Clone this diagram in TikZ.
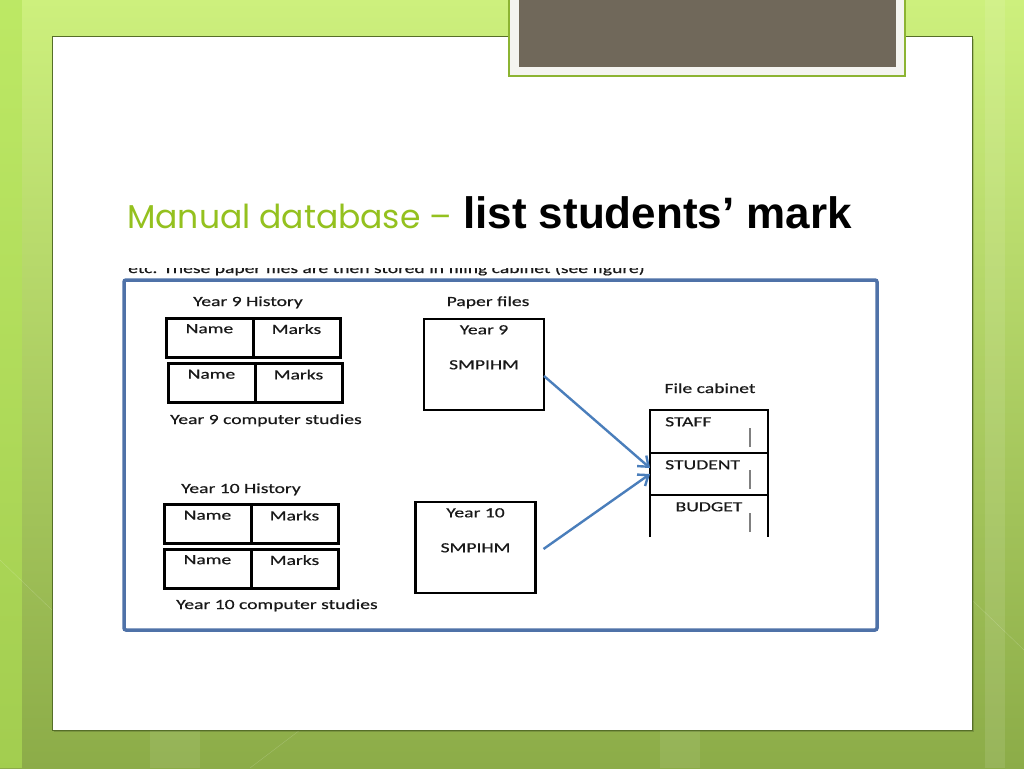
\documentclass[tikz,border=0pt]{standalone}
\usepackage{fontspec}
\usetikzlibrary{positioning,arrows.meta,calc}
\newfontfamily\diagfont[FakeStretch=1.4,FakeBold=0.5]{Carlito}
\newfontfamily\headfont{Poppins}
\newfontfamily\markfont{Liberation Sans}
\newcommand{\diagsize}{\diagfont\fontsize{14}{16}\selectfont}
\definecolor{leafgreen}{RGB}{148,193,31}
\definecolor{panelline}{RGB}{85,110,40}
\definecolor{framblue}{RGB}{79,114,168}
\definecolor{flowblue}{RGB}{74,126,187}
\definecolor{slategray}{RGB}{112,104,90}
\definecolor{inkgray}{RGB}{25,25,25}
\definecolor{bgtop}{RGB}{205,240,125}
\definecolor{bgbottom}{RGB}{140,172,72}
\definecolor{bgleft}{RGB}{178,228,85}
\definecolor{tabline}{RGB}{140,180,50}
\definecolor{tabfill}{RGB}{244,244,240}
\tikzset{
  cell/.style={draw, line width=3pt, minimum width=87pt, minimum height=39pt,
    outer sep=0pt, inner sep=0pt},
  celltext/.style={anchor=north, inner sep=0pt, yshift=-6pt, text=inkgray, font=\diagsize},
  caption/.style={anchor=base, inner sep=0pt, text=inkgray, font=\diagsize},
  paper/.style={draw, line width=2.5pt, minimum width=120pt, minimum height=91pt,
    outer sep=0pt, inner sep=0pt},
  drawer/.style={minimum width=118pt, minimum height=42pt, outer sep=0pt, inner sep=0pt},
  drawertext/.style={anchor=north west, inner sep=0pt, text=inkgray, font=\diagsize},
  handle/.style={draw=gray, line width=1.5pt},
  flow/.style={draw=flowblue, line width=2.4pt, -{Straight Barb[length=9pt,width=14pt]}}
}
\begin{document}
\begin{tikzpicture}[x=1pt,y=-1pt]
  \useasboundingbox (0,0) rectangle (1024,768);
  % Slide background
  \shade[top color=bgtop, bottom color=bgbottom] (0,0) rectangle (1024,768);
  \fill[bgleft, opacity=0.6] (0,0) rectangle (22,768);
  \fill[white, opacity=0.10] (985,0) rectangle (1005,768);
  \fill[white, opacity=0.08] (150,730) rectangle (200,768);
  \fill[white, opacity=0.08] (660,730) rectangle (700,768);
  \draw[white, opacity=0.2] (0,560) -- (52,610) (972,600) -- (1024,650) (250,768) -- (300,730);
  % White panel
  \fill[black, opacity=0.15] (54,39) rectangle (974,732);
  \draw[panelline, fill=white, line width=1pt] (52,37) rectangle (972,730);
  % Grey tab at the top
  \draw[tabline, fill=tabfill, line width=1.5pt] (509,-3) rectangle (905,76);
  \fill[slategray] (519,-3) rectangle (896,67);
  % Title
  \node[anchor=base west, inner sep=0pt, text=leafgreen, font=\headfont\fontsize{33}{40}\selectfont]
    (headlight) at (127,228) {Manual database –};
  \node[anchor=base west, inner sep=0pt, text=black, font=\markfont\bfseries\fontsize{44}{50}\selectfont]
    (headbold) at (463,228) {list students’ mark};
  % Cut-off line of text above the figure
  \begin{scope}
    \clip (120,268) rectangle (800,279);
    \node[caption, anchor=base west] (cuttext) at (128,273)
      {etc. These paper files are then stored in filing cabinet (see figure)};
  \end{scope}
  % Figure frame
  \draw[framblue, line width=3.5pt, rounded corners=2pt] (124,280) rectangle (877,630);
  % Year 9 tables
  \node[caption] (h9title) at (248,306) {Year 9 History};
  \node[cell] (h9name) at (209.5,337.5) {};
  \node[cell, anchor=west] (h9marks) at (h9name.east) {};
  \node[cell] (c9name) at (211.5,383) {};
  \node[cell, anchor=west] (c9marks) at (c9name.east) {};
  \node[celltext] at (h9name.north) {Name};
  \node[celltext] at (h9marks.north) {Marks};
  \node[celltext] at (c9name.north) {Name};
  \node[celltext] at (c9marks.north) {Marks};
  \node[caption, anchor=base west] (c9title) at (170,424) {Year 9 computer studies};
  % Year 10 tables
  \node[caption] (h10title) at (241,493) {Year 10 History};
  \node[cell] (h10name) at (207.5,524) {};
  \node[cell, anchor=west] (h10marks) at (h10name.east) {};
  \node[cell] (c10name) at (207.5,568.5) {};
  \node[cell, anchor=west] (c10marks) at (c10name.east) {};
  \node[celltext] at (h10name.north) {Name};
  \node[celltext] at (h10marks.north) {Marks};
  \node[celltext] at (c10name.north) {Name};
  \node[celltext] at (c10marks.north) {Marks};
  \node[caption, anchor=base west] (c10title) at (176,609) {Year 10 computer studies};
  % Paper files
  \node[caption] (papertitle) at (488,306) {Paper files};
  \node[paper] (p9) at (484,364.5) {};
  \node[celltext, align=center, font=\diagfont\fontsize{14}{35}\selectfont] at (p9.north) {Year 9\\SMPIHM};
  \node[paper] (p10) at (475.5,547.5) {};
  \node[celltext, align=center, font=\diagfont\fontsize{14}{35}\selectfont] at (p10.north) {Year 10\\SMPIHM};
  % File cabinet
  \node[caption] (cabtitle) at (710,393) {File cabinet};
  \node[drawer, draw, line width=2pt, minimum height=43pt] (staff) at (709,431.5) {};
  \node[drawer, draw, line width=2pt] (student) at (709,474) {};
  \node[drawer] (budget) at (709,516) {};
  \draw[line width=2pt] (budget.south west) -- (budget.north west)
    (budget.north east) -- (budget.south east);
  \node[drawertext] at ([xshift=15pt,yshift=-7pt]staff.north west) {STAFF};
  \node[drawertext] at ([xshift=15pt,yshift=-7pt]student.north west) {STUDENT};
  \node[celltext] at ([yshift=-1pt]budget.north) {BUDGET};
  \draw[handle] ([xshift=-18pt,yshift=6pt]staff.south east) -- ++(0,-19);
  \draw[handle] ([xshift=-18pt,yshift=6pt]student.south east) -- ++(0,-19);
  \draw[handle] ([xshift=-18pt,yshift=5pt]budget.south east) -- ++(0,-19);
  % Arrows into the cabinet
  \path[flow] ([yshift=-11.5pt]p9.east) -- ([yshift=6pt]student.west);
  \path[flow] ([xshift=8pt,yshift=-1.5pt]p10.east) -- (student.west);
\end{tikzpicture}
\end{document}
